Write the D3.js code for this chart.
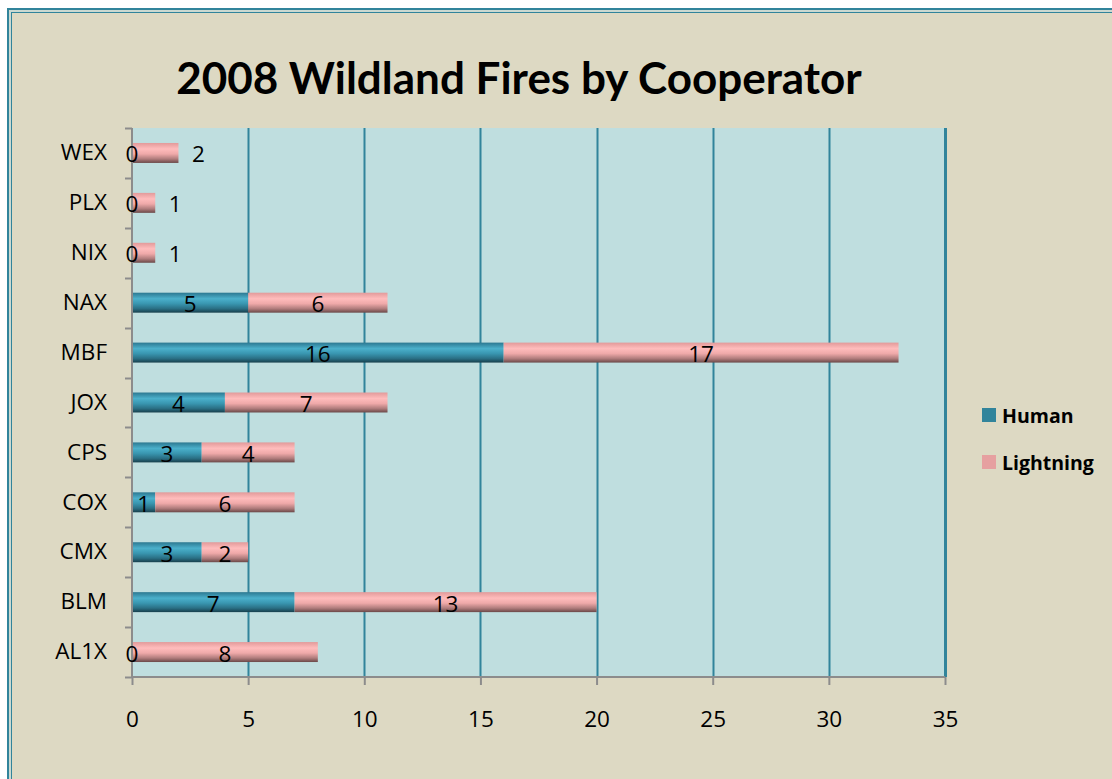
<!DOCTYPE html>
<html><head><meta charset="utf-8">
<script src="https://cdn.jsdelivr.net/npm/d3@7"></script>
<style>html,body{margin:0;padding:0;background:#fff;}svg{display:block;}</style>
</head><body>
<script>
const categories = ["WEX","PLX","NIX","NAX","MBF","JOX","CPS","COX","CMX","BLM","AL1X"];
const human =      [0, 0, 0, 5, 16, 4, 3, 1, 3, 7, 0];
const lightning =  [2, 1, 1, 6, 17, 7, 4, 6, 2, 13, 8];
const seriesNames = ["Human","Lightning"];
const xTicks = [0,5,10,15,20,25,30,35];
const title = "2008 Wildland Fires by Cooperator";

const W = 1112, H = 779;
const FONT = "'Open Sans', Lato, sans-serif";
const TFONT = "Lato, 'Open Sans', sans-serif";
const FS = 22.5;
const svg = d3.select("body").append("svg").attr("width", W).attr("height", H);

// background + border
svg.append("rect").attr("x",0).attr("y",0).attr("width",W).attr("height",H).attr("fill","#ffffff");
svg.append("rect").attr("x",7).attr("y",8).attr("width",W+20).attr("height",H+20).attr("fill","#ddd9c3");
svg.append("rect").attr("x",8).attr("y",9).attr("width",W+20).attr("height",H+20)
  .attr("fill","none").attr("stroke","#31849b").attr("stroke-width",2);
svg.append("rect").attr("x",11.5).attr("y",12.5).attr("width",W+20).attr("height",H+20)
  .attr("fill","none").attr("stroke","#31849b").attr("stroke-width",1);
svg.append("rect").attr("x",10).attr("y",11).attr("width",W+20).attr("height",H+20)
  .attr("fill","none").attr("stroke","#b9d9e0").attr("stroke-width",1);

const defs = svg.append("defs");
function grad(id, stops){
  const g = defs.append("linearGradient").attr("id",id).attr("x1",0).attr("y1",0).attr("x2",0).attr("y2",1);
  stops.forEach(s=>g.append("stop").attr("offset",s[0]).attr("stop-color",s[1]));
}
grad("gH", [[0,"#2c7891"],[0.3,"#4bb0cb"],[0.55,"#3996b0"],[0.8,"#2a6f84"],[1,"#173f4c"]]);
grad("gL", [[0,"#e29a9a"],[0.3,"#ffbcbc"],[0.55,"#efa9a9"],[0.8,"#b07c7c"],[1,"#6a4848"]]);

const L = 132, R = 945, T = 128, B = 677;
const x = d3.scaleLinear().domain([0,35]).range([L,R]);
const y = d3.scaleBand().domain(categories).range([T,B]).paddingInner(0.6).paddingOuter(0.3);

// plot area
svg.append("rect").attr("x",L).attr("y",T).attr("width",R-L).attr("height",B-T).attr("fill","#bfdedf");

// gridlines
svg.append("g").selectAll("line").data(xTicks.filter(d=>d>0)).join("line")
  .attr("x1",d=>Math.round(x(d))+0.5).attr("x2",d=>Math.round(x(d))+0.5)
  .attr("y1",T).attr("y2",B)
  .attr("stroke","#31849b").attr("stroke-width",d=>d===35?3:2);

// bars
const rows = categories.map((c,i)=>({c, h:human[i], l:lightning[i]}));
const bh = y.bandwidth();
const g = svg.append("g");
g.selectAll("rect.h").data(rows).join("rect").attr("class","h")
  .attr("x",x(0)).attr("y",d=>y(d.c)).attr("width",d=>x(d.h)-x(0)).attr("height",bh).attr("fill","url(#gH)");
g.selectAll("rect.l").data(rows).join("rect").attr("class","l")
  .attr("x",d=>x(d.h)).attr("y",d=>y(d.c)).attr("width",d=>x(d.h+d.l)-x(d.h)).attr("height",bh).attr("fill","url(#gL)");

// axes lines (gray)
const axisColor = "#8c8c8c";
const yAxis = d3.axisLeft(y).tickSize(0).tickPadding(25);
const ya = svg.append("g").attr("transform",`translate(${L},0)`).call(yAxis);
ya.select(".domain").remove();
ya.selectAll("text").attr("font-family",FONT).attr("font-size",FS).attr("fill","#000");
// category separator ticks
const sep = d3.range(categories.length+1).map(i=>T + i*(B-T)/categories.length);
svg.append("g").selectAll("line").data(sep).join("line")
  .attr("x1",L-7).attr("x2",L).attr("y1",d=>Math.round(d)+0.5).attr("y2",d=>Math.round(d)+0.5)
  .attr("stroke",axisColor).attr("stroke-width",2);
svg.append("line").attr("x1",L).attr("x2",L).attr("y1",T).attr("y2",B+1)
  .attr("stroke",axisColor).attr("stroke-width",2);

const xAxis = d3.axisBottom(x).tickValues(xTicks).tickSize(8).tickPadding(26).tickFormat(d3.format("d"));
const xa = svg.append("g").attr("transform",`translate(0,${B})`).call(xAxis);
xa.select(".domain").attr("stroke",axisColor).attr("stroke-width",2).attr("d",`M${L},0H${R}`);
xa.selectAll(".tick line").attr("stroke",axisColor).attr("stroke-width",2);
xa.selectAll("text").attr("font-family",FONT).attr("font-size",FS).attr("fill","#000");

// data labels
const lab = svg.append("g").attr("font-family",FONT).attr("font-size",FS).attr("fill","#000")
  .attr("text-anchor","middle").attr("dominant-baseline","central");
rows.forEach(d=>{
  const cy = y(d.c)+bh/2+1;
  lab.append("text").attr("x",(x(0)+x(d.h))/2).attr("y",cy).text(d.h);
  let lx = (x(d.h)+x(d.h+d.l))/2;
  if (d.h===0 && d.l<=2) lx = x(d.l) + 20;
  lab.append("text").attr("x",lx).attr("y",cy).text(d.l);
});

// title
svg.append("text").attr("x",519).attr("y",94).attr("text-anchor","middle")
  .attr("font-family",TFONT).attr("font-weight","bold").attr("font-size",44).attr("fill","#000")
  .text(title);

// legend
const leg = svg.append("g");
const legColors = ["#31849b","#e6a0a0"];
seriesNames.forEach((n,i)=>{
  const ly = 415 + i*47;
  leg.append("rect").attr("x",982).attr("y",ly-7).attr("width",14).attr("height",14).attr("fill",legColors[i]);
  leg.append("text").attr("x",1002).attr("y",ly).attr("dominant-baseline","central")
    .attr("font-family",FONT).attr("font-weight","bold").attr("font-size",19.5).attr("fill","#000").text(n);
});
</script>
</body></html>
